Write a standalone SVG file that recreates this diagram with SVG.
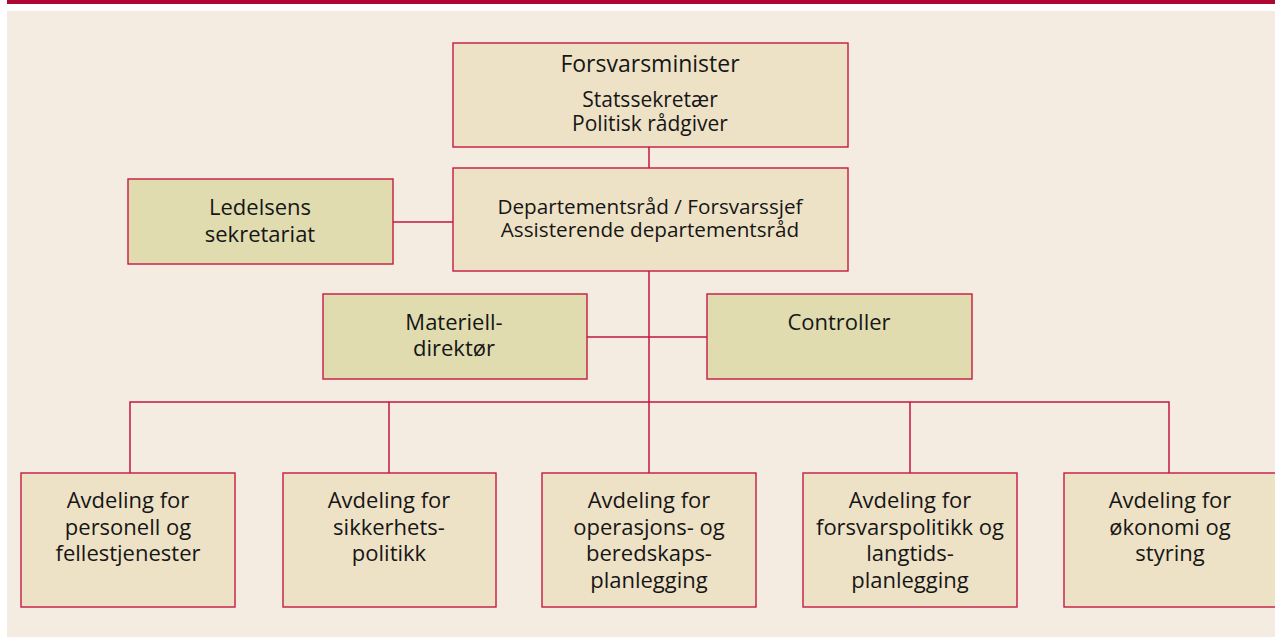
<svg xmlns="http://www.w3.org/2000/svg" width="1275" height="637" viewBox="0 0 1275 637">
<style>
.bg{fill:#F4ECE0}
.bar{fill:#AE0733}
.box{fill:#EEE2C6;stroke:#C41A44;stroke-width:1.4}
.obox{fill:#E0DCAF;stroke:#C41A44;stroke-width:1.4}
.ln{stroke:#C3163F;stroke-width:1.5;fill:none}
text{font-family:"Open Sans","Noto Sans","DejaVu Sans",sans-serif;fill:#161616;text-anchor:middle}
.t23{font-size:23px}
.t22{font-size:22px}
.t21{font-size:21px}
.t20{font-size:20.7px}
</style>
<rect x="0" y="0" width="1275" height="637" fill="#FFFFFF"/>
<rect class="bar" x="7" y="0" width="1268" height="4"/>
<rect class="bg" x="7" y="11" width="1268" height="626"/>
<g id="connectors">
<line class="ln" x1="649" y1="147" x2="649" y2="168"/>
<line class="ln" x1="649" y1="271" x2="649" y2="473"/>
<line class="ln" x1="393" y1="222" x2="453" y2="222"/>
<line class="ln" x1="587" y1="337" x2="707" y2="337"/>
<polyline class="ln" points="130,473 130,402 1169,402 1169,473"/>
<line class="ln" x1="389" y1="402" x2="389" y2="473"/>
<line class="ln" x1="910" y1="402" x2="910" y2="473"/>
</g>
<g id="forsvarsminister">
<rect class="box" x="453" y="43" width="395" height="104"/>
<text class="t23" x="650" y="72">Forsvarsminister</text>
<text class="t21" x="650" y="107">Statssekretær</text>
<text class="t21" x="650" y="131">Politisk rådgiver</text>
</g>
<g id="departementsrad">
<rect class="box" x="453" y="168" width="395" height="103"/>
<text class="t20" x="650" y="214">Departementsråd / Forsvarssjef</text>
<text class="t20" x="650" y="237">Assisterende departementsråd</text>
</g>
<g id="ledelsens">
<rect class="obox" x="128" y="179" width="265" height="85"/>
<text class="t22" x="260" y="215">Ledelsens</text>
<text class="t22" x="260" y="242">sekretariat</text>
</g>
<g id="materiell">
<rect class="obox" x="323" y="294" width="264" height="85"/>
<text class="t22" x="454" y="330">Materiell-</text>
<text class="t22" x="454" y="356">direktør</text>
</g>
<g id="controller">
<rect class="obox" x="707" y="294" width="265" height="85"/>
<text class="t22" x="839" y="330">Controller</text>
</g>
<g id="avd-personell">
<rect class="box" x="21" y="473" width="214" height="134"/>
<text class="t22" x="128" y="508">Avdeling for</text>
<text class="t22" x="128" y="535">personell og</text>
<text class="t22" x="128" y="561">fellestjenester</text>
</g>
<g id="avd-sikkerhet">
<rect class="box" x="283" y="473" width="213" height="134"/>
<text class="t22" x="389" y="508">Avdeling for</text>
<text class="t22" x="389" y="535">sikkerhets-</text>
<text class="t22" x="389" y="561">politikk</text>
</g>
<g id="avd-operasjon">
<rect class="box" x="542" y="473" width="214" height="134"/>
<text class="t22" x="649" y="508">Avdeling for</text>
<text class="t22" x="649" y="535">operasjons- og</text>
<text class="t22" x="649" y="561">beredskaps-</text>
<text class="t22" x="649" y="588">planlegging</text>
</g>
<g id="avd-forsvarspolitikk">
<rect class="box" x="803" y="473" width="214" height="134"/>
<text class="t22" x="910" y="508">Avdeling for</text>
<text class="t22" x="910" y="535">forsvarspolitikk og</text>
<text class="t22" x="910" y="561">langtids-</text>
<text class="t22" x="910" y="588">planlegging</text>
</g>
<g id="avd-okonomi">
<rect class="box" x="1064" y="473" width="213" height="134"/>
<text class="t22" x="1170" y="508">Avdeling for</text>
<text class="t22" x="1170" y="535">økonomi og</text>
<text class="t22" x="1170" y="561">styring</text>
</g>
</svg>
